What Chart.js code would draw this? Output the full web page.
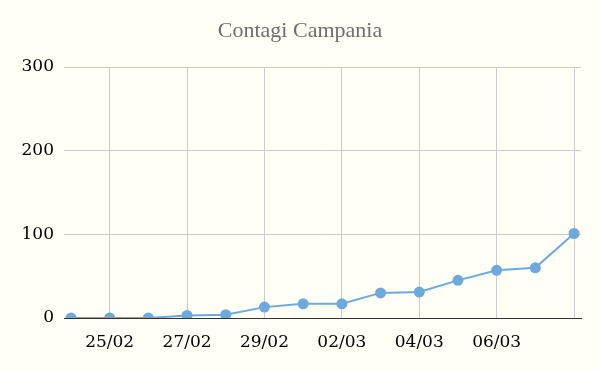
<!DOCTYPE html>
<html>
<head>
<meta charset="utf-8">
<script src="https://cdn.jsdelivr.net/npm/chart.js@4.4.1/dist/chart.umd.min.js"></script>
<style>
  html, body { margin: 0; padding: 0; background: rgb(255,255,246); }
  #wrap { width: 600px; height: 371px; position: relative; }
</style>
</head>
<body>
<div id="wrap"><canvas id="c" width="600" height="371"></canvas></div>
<script>
const dates = ['24/02','25/02','26/02','27/02','28/02','29/02','01/03','02/03','03/03','04/03','05/03','06/03','07/03','08/03'];
const cases = [0, 0, 0, 3, 4, 13, 17, 17, 30, 31, 45, 57, 60, 101];
const xTickLabels = ['25/02','27/02','29/02','02/03','04/03','06/03'];
const xGridDates = ['25/02','27/02','29/02','02/03','04/03','06/03','08/03'];
const yTicks = [0, 100, 200, 300];

const bgPlugin = {
  id: 'bg',
  beforeDraw(chart) {
    const ctx = chart.ctx;
    ctx.save();
    ctx.fillStyle = 'rgb(255,255,246)';
    ctx.fillRect(0, 0, chart.width, chart.height);
    ctx.restore();
  }
};

new Chart(document.getElementById('c'), {
  type: 'line',
  data: {
    datasets: [{
      label: 'Contagi',
      data: cases.map((v, i) => ({ x: i, y: v })),
      borderColor: 'rgb(111,168,220)',
      backgroundColor: 'rgb(111,168,220)',
      borderWidth: 2,
      pointRadius: 4.5,
      pointHoverRadius: 4.5,
      tension: 0,
      fill: false
    }]
  },
  options: {
    responsive: false,
    animation: false,
    layout: { padding: { left: 0, right: 0, top: 0, bottom: 0 } },
    plugins: {
      legend: { display: false },
      tooltip: { enabled: false },
      title: {
        display: true,
        text: 'Contagi Campania',
        color: '#6e6e6e',
        font: { family: "'Liberation Serif', serif", size: 22, weight: 'normal' },
        padding: { top: 18, bottom: 22.6 }
      }
    },
    scales: {
      x: {
        type: 'linear',
        min: -0.18,
        max: dates.length - 1 + 0.18,
        afterBuildTicks(scale) {
          scale.ticks = xGridDates.map(d => ({ value: dates.indexOf(d) }));
        },
        afterFit(scale) { scale.height = 53; },
        grid: { color: '#cccccc', lineWidth: 1, drawTicks: false },
        border: { display: true, color: '#333333', width: 1 },
        ticks: {
          padding: 14,
          color: '#000000',
          maxRotation: 0,
          autoSkip: false,
          font: { family: "'DejaVu Serif', serif", size: 17 },
          callback(v) {
            const d = dates[v];
            return xTickLabels.includes(d) ? d : '';
          }
        }
      },
      y: {
        min: 0,
        max: 300,
        afterBuildTicks(scale) {
          scale.ticks = yTicks.map(v => ({ value: v }));
        },
        afterFit(scale) { scale.width = 64; },
        grid: { color: '#cccccc', lineWidth: 1, drawTicks: false },
        border: { display: false },
        ticks: {
          padding: 10,
          color: '#000000',
          font: { family: "'DejaVu Serif', serif", size: 17 }
        }
      },
      yRight: {
        type: 'linear',
        position: 'right',
        display: true,
        min: 0,
        max: 300,
        afterFit(scale) { scale.width = 19; },
        grid: { display: false, drawTicks: false },
        border: { display: false },
        ticks: { display: false }
      }
    }
  },
  plugins: [bgPlugin]
});
</script>
</body>
</html>
